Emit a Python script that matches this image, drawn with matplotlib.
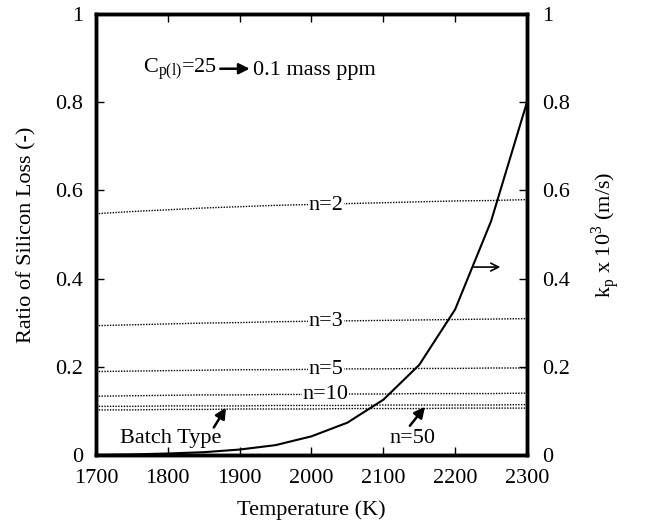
import matplotlib
matplotlib.use('Agg')
import matplotlib.pyplot as plt

plt.rcParams['font.family'] = ['Liberation Serif', 'DejaVu Serif']
plt.rcParams['mathtext.fontset'] = 'custom'
plt.rcParams['mathtext.rm'] = 'Liberation Serif'

temps = [1700, 1750, 1800, 1850, 1900, 1950, 2000, 2050, 2100, 2150, 2200, 2250, 2300]
loss_n2 = [0.547, 0.552, 0.556, 0.560, 0.563, 0.566, 0.568, 0.570, 0.572, 0.574, 0.576, 0.577, 0.579]
loss_n3 = [0.293, 0.295, 0.297, 0.299, 0.300, 0.302, 0.303, 0.304, 0.305, 0.306, 0.307, 0.308, 0.309]
loss_n5 = [0.189, 0.190, 0.191, 0.192, 0.193, 0.193, 0.194, 0.195, 0.195, 0.196, 0.196, 0.197, 0.197]
loss_n10 = [0.133, 0.134, 0.135, 0.136, 0.136, 0.137, 0.137, 0.138, 0.138, 0.139, 0.139, 0.139, 0.140]
loss_n50 = [0.110, 0.110, 0.111, 0.111, 0.111, 0.112, 0.112, 0.112, 0.113, 0.113, 0.113, 0.113, 0.114]
loss_batch = [0.102, 0.102, 0.103, 0.103, 0.104, 0.104, 0.104, 0.105, 0.105, 0.105, 0.106, 0.106, 0.106]
kp = [0.0, 0.001, 0.003, 0.006, 0.012, 0.022, 0.042, 0.073, 0.125, 0.204, 0.33, 0.53, 0.80]

fig = plt.figure(figsize=(6.53, 5.21), dpi=100)
ax = fig.add_axes([0.147, 0.127, 0.660, 0.846])

dot = dict(color='black', lw=1.0, linestyle=(0, (1.0, 1.0)))
for vals in [loss_n2, loss_n3, loss_n5, loss_n10, loss_n50, loss_batch]:
    ax.plot(temps, vals, **dot)

# labels that interrupt the dotted lines
for txt, y in [('n=2', 0.565), ('n=3', 0.302), ('n=5', 0.193), ('n=10', 0.137)]:
    ax.text(2020, y, txt, fontsize=16, ha='center', va='center',
            bbox=dict(facecolor='white', edgecolor='none', pad=0.3))

ax.set_xlim(1700, 2300)
ax.set_ylim(0, 1)
ax.set_xticks([1700, 1800, 1900, 2000, 2100, 2200, 2300])
ax.set_yticks([0, 0.2, 0.4, 0.6, 0.8, 1])
ax.set_yticklabels(['0', '0.2', '0.4', '0.6', '0.8', '1'])
ax.tick_params(direction='in', length=6, width=1.0, labelsize=16, top=True)
ax.tick_params(axis='x', pad=10)
ax.tick_params(axis='y', pad=9)
ax.set_xlabel('Temperature (K)', fontsize=16, labelpad=9)
ax.set_ylabel('Ratio of Silicon Loss (-)', fontsize=16, labelpad=14)
for s in ax.spines.values():
    s.set_linewidth(2.5)

ax2 = ax.twinx()
ax2.plot(temps, kp, color='black', lw=1.5)
ax2.set_ylim(0, 1)
ax2.set_yticks([0, 0.2, 0.4, 0.6, 0.8, 1])
ax2.set_yticklabels(['0', '0.2', '0.4', '0.6', '0.8', '1'])
ax2.tick_params(direction='in', length=6, width=1.0, labelsize=16, pad=11)
ax2.set_ylabel(r'k$_{\rm p}$ x 10$^{3}$ (m/s)', fontsize=16, labelpad=14)
for s in ax2.spines.values():
    s.set_linewidth(2.5)

# annotations
def arrow(x0, y0, x1, y1, style='-|>', lw=1.8, ms=16):
    ax.annotate('', xy=(x1, y1), xytext=(x0, y0),
                arrowprops=dict(arrowstyle=style, color='black', lw=lw,
                                mutation_scale=ms, shrinkA=0, shrinkB=0))

arrow(2226, 0.426, 2263, 0.426, style='->', lw=1.2, ms=14)
arrow(1864, 0.062, 1881, 0.107)
ax.text(1804, 0.038, 'Batch Type', fontsize=16, ha='center', va='center')
arrow(2137, 0.066, 2158, 0.109)
ax.text(2140, 0.038, 'n=50', fontsize=16, ha='center', va='center')

ax.text(1766, 0.873, r'C$_{\rm p(l)}$=25', fontsize=16, ha='left', va='center')
arrow(1873, 0.876, 1914, 0.876)
ax.text(1919, 0.873, '0.1 mass ppm', fontsize=16, ha='left', va='center')

fig.savefig('out.png', dpi=100)
